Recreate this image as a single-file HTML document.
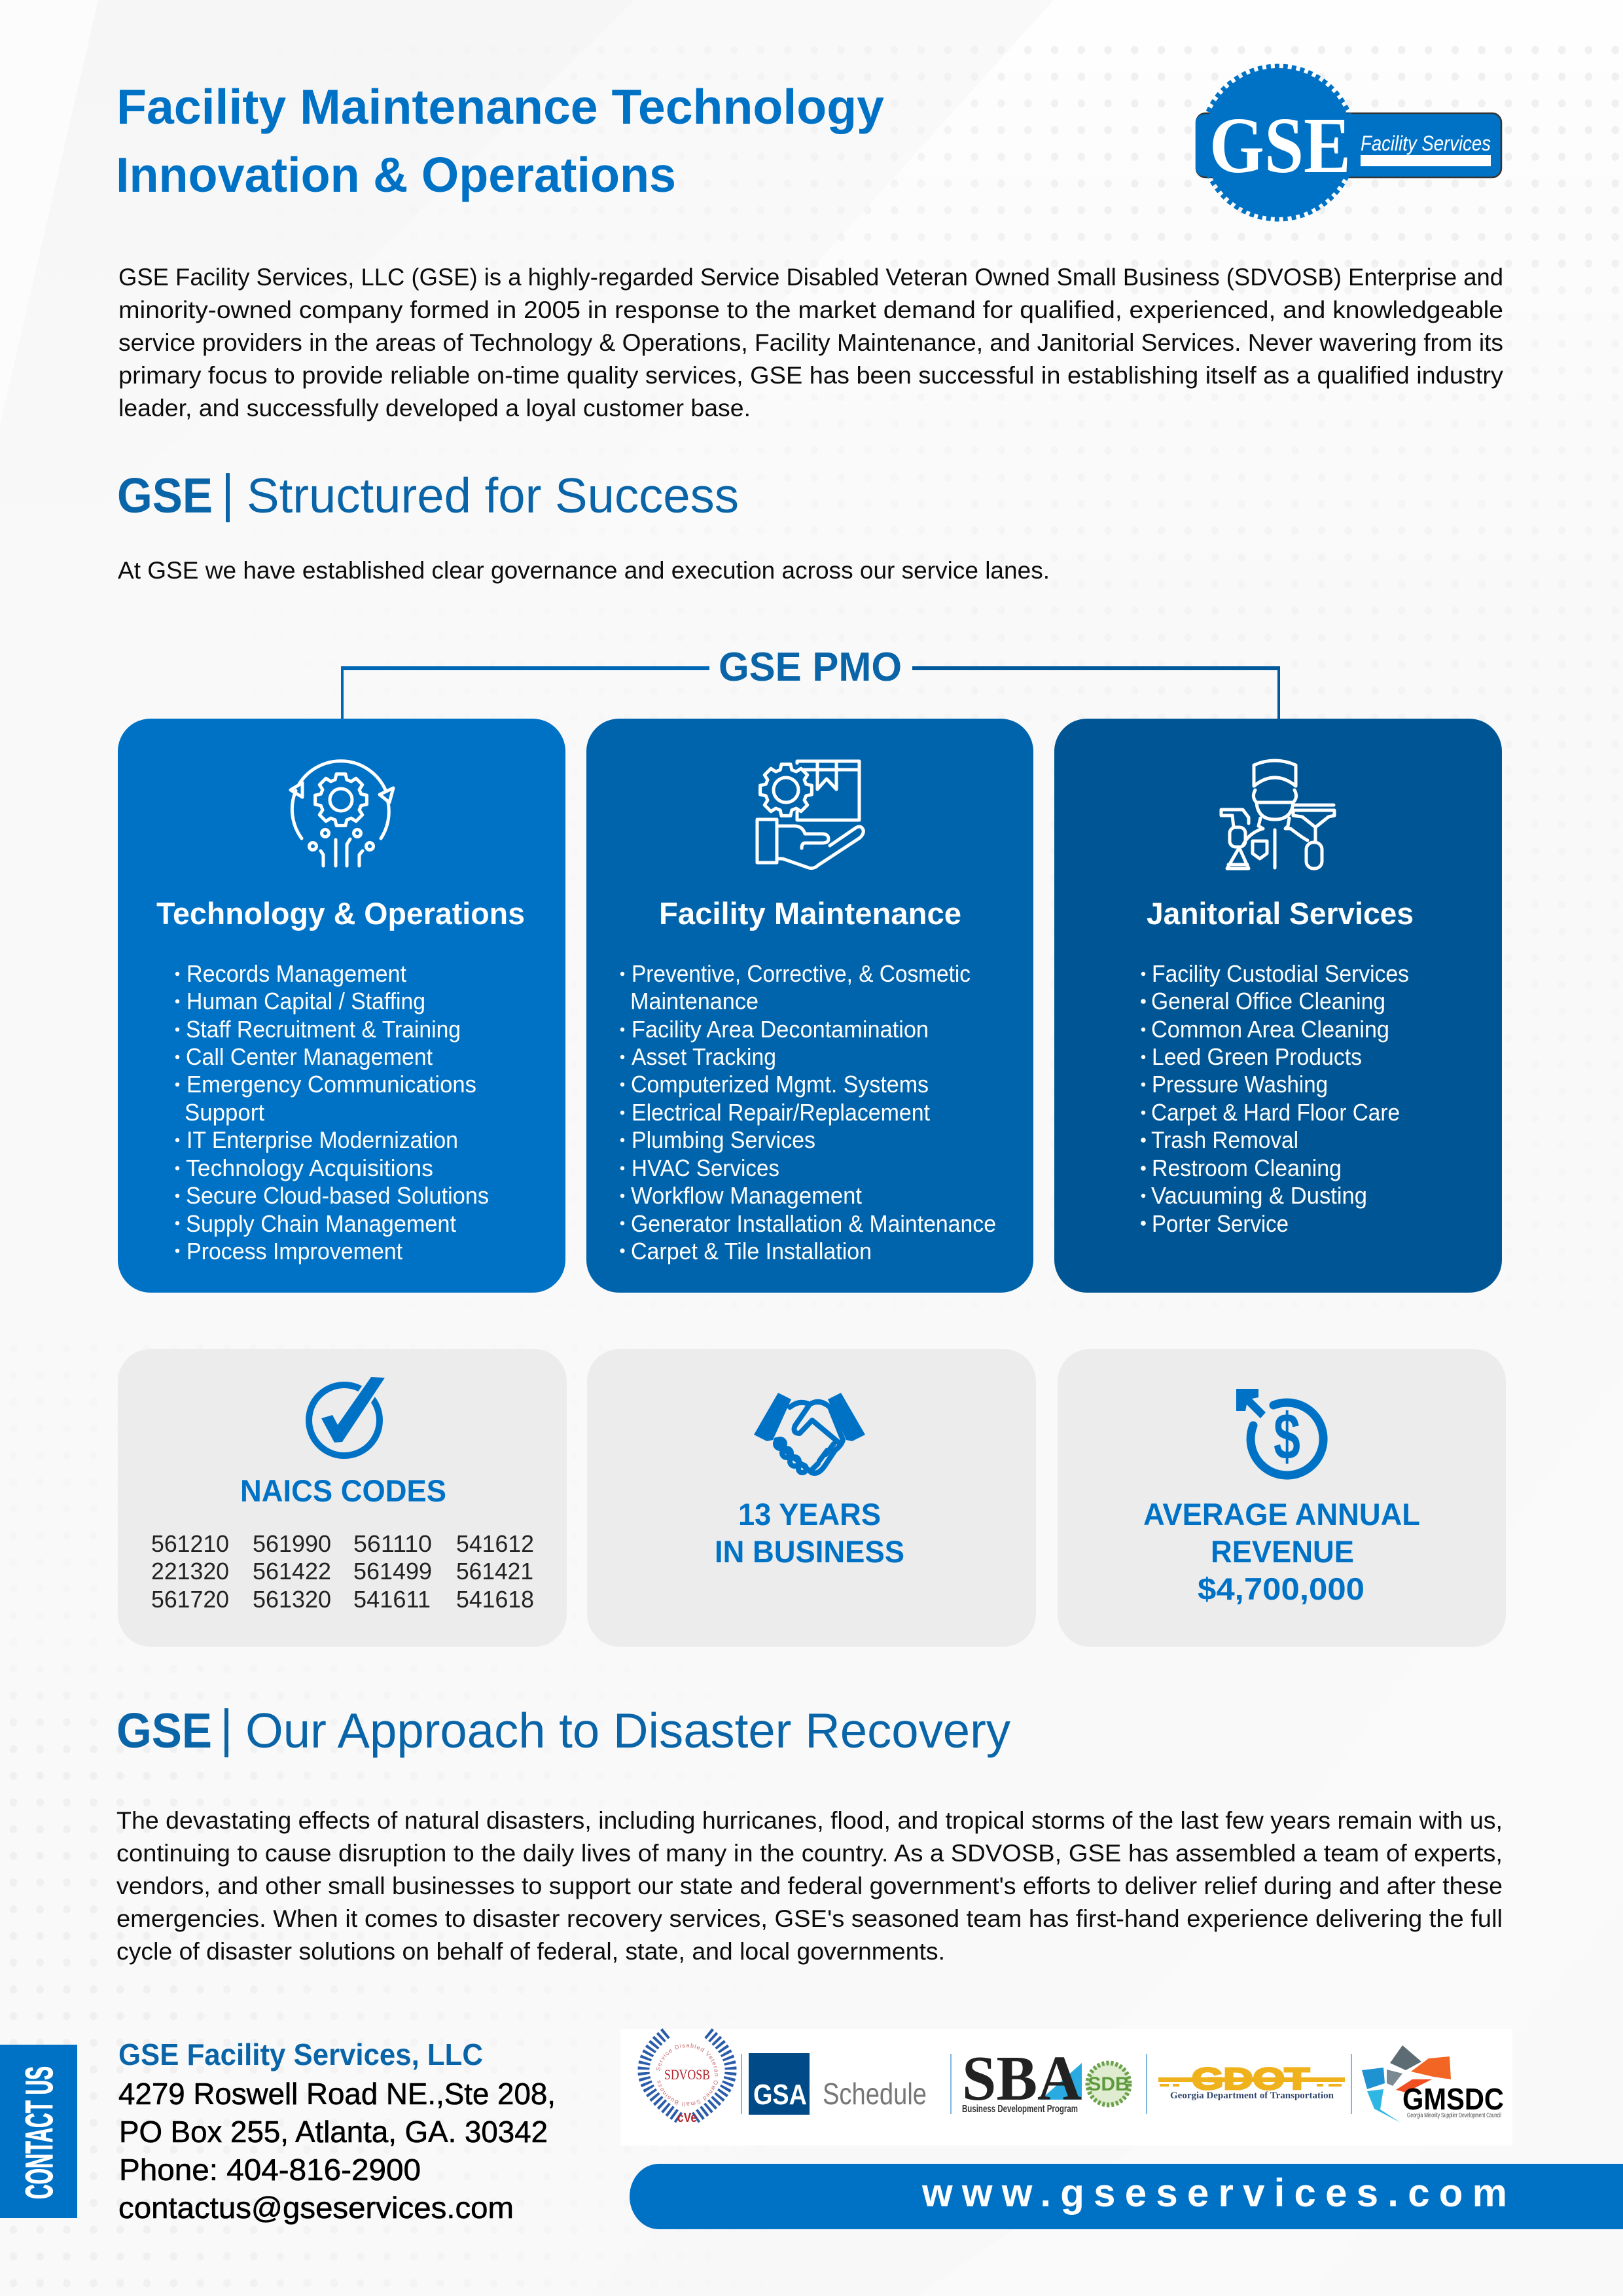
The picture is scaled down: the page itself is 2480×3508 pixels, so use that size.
<!DOCTYPE html>
<html lang="en"><head><meta charset="utf-8"><title>GSE Facility Maintenance Technology</title>
<style>
html,body{margin:0;padding:0;width:2480px;height:3508px;overflow:hidden;background:#f9f9f9}
#pg{position:relative;width:2480px;height:3508px;overflow:hidden;background:#f9f9f9}
.d{position:absolute;background-image:radial-gradient(ellipse 6px 6.5px at 50% 50%,#f0f0f0 90%,rgba(240,240,240,0) 100%);background-size:40.8px 40.8px}
.m{position:absolute}
svg{position:absolute;left:0;top:0}
text{font-family:"Liberation Sans",Arial,sans-serif}
.p{font-size:37px;fill:#0c0c0c}
.h{font-size:75px;fill:#0a65a8}
.hb{font-weight:bold}
.t{font-size:75px;font-weight:bold;fill:#0072c6}
.ct{font-size:47px;font-weight:bold;fill:#fff}
.l{font-size:36px;fill:#fff}
.n{font-size:36px;fill:#222}
.s{font-size:47px;font-weight:bold;fill:#0072c6}
.a{font-size:46px;fill:#000;stroke:#000;stroke-width:.6px}
.ic{fill:none;stroke:#fff;stroke-width:5;stroke-linecap:round;stroke-linejoin:round}
.hs{fill:none;stroke:#0072c6;stroke-width:8;stroke-linecap:round;stroke-linejoin:round}
</style></head><body><div id="pg">
<svg width="2480" height="3508" viewBox="0 0 2480 3508" style="z-index:0">
<defs>
<linearGradient id="w" x1="0" y1="0" x2="0" y2="1"><stop offset="0" stop-color="#fefefe"/><stop offset="1" stop-color="#f9f9f9"/></linearGradient>
<linearGradient id="k" x1="0" y1="0" x2="0" y2="1"><stop offset="0" stop-color="#f6f6f6"/><stop offset="1" stop-color="#f9f9f9"/></linearGradient>
</defs>
<polygon points="1610,0 2480,0 2480,900 800,900" fill="url(#w)"/>
<polygon points="0,0 150,0 0,650" fill="#fcfcfc"/>
<polygon points="150,0 970,0 370,590 0,900 0,650" fill="url(#k)"/>
<polygon points="2480,2100 2480,2900 2000,3508 1300,3508 1900,2900" fill="#fafafa"/>
<polygon points="900,3508 1150,3270 1750,3270 1400,3508" fill="#f8f8f8"/>
</svg>
<div class="m" style="left:0;top:56px;width:2480px;height:1950px;-webkit-mask-image:linear-gradient(to right,transparent 15%,#000 70%);mask-image:linear-gradient(to right,transparent 15%,#000 70%)">
<div class="d" style="left:0;top:0;width:2480px;height:1950px;-webkit-mask-image:linear-gradient(to bottom,#000 0,#000 340px,rgba(0,0,0,.5) 420px,rgba(0,0,0,.5) 1100px,rgba(0,0,0,.2) 1950px);mask-image:linear-gradient(to bottom,#000 0,#000 340px,rgba(0,0,0,.5) 420px,rgba(0,0,0,.5) 1100px,rgba(0,0,0,.2) 1950px)"></div></div>
<div class="m" style="left:0;top:2040px;width:1200px;height:1468px;-webkit-mask-image:linear-gradient(to bottom,rgba(0,0,0,.3) 0,rgba(0,0,0,.3) 480px,#000 620px);mask-image:linear-gradient(to bottom,rgba(0,0,0,.3) 0,rgba(0,0,0,.3) 480px,#000 620px)">
<div class="d" style="left:0;top:0;width:1200px;height:1468px;-webkit-mask-image:linear-gradient(to right,#000 20%,transparent 100%);mask-image:linear-gradient(to right,#000 20%,transparent 100%)"></div></div>

<svg width="2480" height="3508" viewBox="0 0 2480 3508" style="z-index:2">
<defs>
<polygon id="g" points="98.5,-17.4 98.5,17.4 76.9,22.1 70,38.8 81.9,57.4 57.4,81.9 38.8,70 22.1,76.9 17.4,98.5 -17.4,98.5 -22.1,76.9 -38.8,70 -57.4,81.9 -81.9,57.4 -70,38.8 -76.9,22.1 -98.5,17.4 -98.5,-17.4 -76.9,-22.1 -70,-38.8 -81.9,-57.4 -57.4,-81.9 -38.8,-70 -22.1,-76.9 -17.4,-98.5 17.4,-98.5 22.1,-76.9 38.8,-70 57.4,-81.9 81.9,-57.4 70,-38.8 76.9,-22.1"/>
<path id="sv" d="M1008,3170 a42,42 0 1 1 84,0 a42,42 0 1 1 -84,0"/>
</defs>

<!-- Title -->
<text class="t" x="178" y="189" textLength="1173" lengthAdjust="spacingAndGlyphs">Facility Maintenance Technology</text>
<text class="t" x="177" y="293" textLength="856" lengthAdjust="spacingAndGlyphs">Innovation &amp; Operations</text>

<!-- Logo -->
<rect x="1828" y="173" width="466" height="98" rx="14" fill="#0072c6" stroke="#333" stroke-width="2.5"/>
<circle cx="1953" cy="218" r="114" fill="#0072c6"/>
<circle cx="1953" cy="218" r="117" fill="none" stroke="#0072c6" stroke-width="7" stroke-dasharray="7 6"/>
<rect x="1827" y="175" width="30" height="94" rx="12" fill="#0072c6"/>
<text x="1848" y="263" textLength="216" lengthAdjust="spacingAndGlyphs" style="font-family:'Liberation Serif',serif;font-weight:bold;font-size:122px;fill:#fff">GSE</text>
<text x="2079" y="230" textLength="199" lengthAdjust="spacingAndGlyphs" style="font-style:italic;font-size:32px;fill:#fff">Facility Services</text>
<rect x="2079" y="237" width="199" height="17" fill="#fff"/>

<!-- Paragraph 1 -->
<text class="p" x="181" y="436" textLength="2116" lengthAdjust="spacingAndGlyphs">GSE Facility Services, LLC (GSE) is a highly-regarded Service Disabled Veteran Owned Small Business (SDVOSB) Enterprise and</text>
<text class="p" x="181" y="486" textLength="2116" lengthAdjust="spacingAndGlyphs">minority-owned company formed in 2005 in response to the market demand for qualified, experienced, and knowledgeable</text>
<text class="p" x="181" y="536" textLength="2116" lengthAdjust="spacingAndGlyphs">service providers in the areas of Technology &amp; Operations, Facility Maintenance, and Janitorial Services. Never wavering from its</text>
<text class="p" x="181" y="586" textLength="2116" lengthAdjust="spacingAndGlyphs">primary focus to provide reliable on-time quality services, GSE has been successful in establishing itself as a qualified industry</text>
<text class="p" x="181" y="636" textLength="966" lengthAdjust="spacingAndGlyphs">leader, and successfully developed a loyal customer base.</text>

<!-- Heading 1 -->
<text class="h hb" x="179" y="783" textLength="146" lengthAdjust="spacingAndGlyphs">GSE</text>
<rect x="345" y="723" width="6" height="75" fill="#0a65a8"/>
<text class="h" x="377" y="783" textLength="752" lengthAdjust="spacingAndGlyphs">Structured for Success</text>
<text class="p" x="180" y="884" textLength="1424" lengthAdjust="spacingAndGlyphs">At GSE we have established clear governance and execution across our service lanes.</text>

<!-- PMO -->
<text x="1098" y="1040" textLength="280" lengthAdjust="spacingAndGlyphs" style="font-size:62px;font-weight:bold;fill:#0a65a8">GSE PMO</text>
<rect x="521" y="1018" width="563" height="6" fill="#0068b5"/>
<rect x="521" y="1018" width="4" height="84" fill="#0068b5"/>
<rect x="1394" y="1018" width="562" height="6" fill="#005a9c"/>
<rect x="1952" y="1018" width="4" height="84" fill="#005a9c"/>

<!-- Cards -->
<rect x="180" y="1098" width="684" height="877" rx="50" fill="#0072c6"/>
<rect x="896" y="1098" width="683" height="877" rx="50" fill="#0064ac"/>
<rect x="1611" y="1098" width="684" height="877" rx="50" fill="#005694"/>

<!-- Icon 1 -->
<g class="ic">
<use href="#g" transform="translate(521,1222) scale(.4)" style="stroke-width:12.5"/>
<circle cx="521" cy="1222" r="17"/>
<path d="M461,1281 A75,75 0 0 1 452,1208 M457,1198 A75,75 0 0 1 589,1207 M593,1226 A75,75 0 0 1 582,1281"/>
<polygon points="444,1207 462,1196 462,1218"/>
<polygon points="580,1214 601,1204 595,1226"/>
<circle cx="497" cy="1273" r="5.5"/><circle cx="546" cy="1273" r="5.5"/><circle cx="478" cy="1293" r="5.5"/><circle cx="565" cy="1293" r="5.5"/>
<path d="M513,1283 V1323 M530,1323 V1290 L535,1282 M494,1323 V1306 L490,1300 M549,1323 V1306 L554,1300"/>
</g>

<!-- Icon 2 -->
<g class="ic">
<use href="#g" transform="translate(1201,1207) scale(.4)" style="stroke-width:12.5"/>
<circle cx="1201" cy="1207" r="19"/>
<path d="M1218,1166 V1163 H1313 V1253 H1218 V1240 M1228,1176 H1313 M1249,1163 V1206 L1263,1190 L1278,1206 V1163"/>
<rect x="1157" y="1252" width="30" height="66"/>
<path d="M1187,1262 H1214 Q1226,1262 1230,1274 H1256 Q1266,1274 1266,1282 Q1266,1288 1256,1288 H1230 Q1225,1288 1225,1296 M1187,1312 H1196 L1236,1326 Q1244,1328 1250,1322 L1314,1280 Q1322,1272 1318,1266 Q1314,1260 1306,1266 L1268,1292"/>
</g>

<!-- Icon 3 -->
<g class="ic">
<path d="M1916,1169 Q1948,1155 1980,1169 V1201 Q1948,1175 1916,1201 Z"/>
<path d="M1918,1207 Q1912,1218 1920,1226 Q1922,1252 1948,1252 Q1974,1252 1976,1226 Q1984,1218 1978,1207 M1921,1226 H1975"/>
<path d="M1926,1250 L1923,1262 L1930,1266 L1924,1268 Q1906,1276 1899,1292 M1970,1250 L1968,1262 L1964,1266 L1972,1266 Q1990,1280 1998,1284"/>
<path d="M1948,1268 V1326"/>
<path d="M1914,1285 H1936 V1304 L1925,1312 L1914,1304 Z"/>
<path d="M1866,1237 H1899 L1908,1249 V1258 M1866,1237 V1246 H1883 L1885,1264"/>
<rect x="1879" y="1264" width="24" height="30" rx="9"/>
<path d="M1893,1296 L1875,1327 H1908 L1894,1296 M1877,1321 H1906"/>
<path d="M1977,1230 H2038 M1976,1238 H2039 V1246 L2030,1248 L2010,1264 L1990,1248 L1976,1246 Z M2010,1264 V1287"/>
<rect x="1996" y="1287" width="24" height="40" rx="11"/>
</g>

<!-- Card titles -->
<text class="ct" x="239" y="1412" textLength="563" lengthAdjust="spacingAndGlyphs">Technology &amp; Operations</text>
<text class="ct" x="1007" y="1412" textLength="462" lengthAdjust="spacingAndGlyphs">Facility Maintenance</text>
<text class="ct" x="1752" y="1412" textLength="408" lengthAdjust="spacingAndGlyphs">Janitorial Services</text>

<!-- Bullets -->
<g fill="#fff">
<circle cx="271" cy="1488" r="3.2"/><circle cx="271" cy="1530" r="3.2"/><circle cx="271" cy="1573" r="3.2"/><circle cx="271" cy="1615" r="3.2"/><circle cx="271" cy="1657" r="3.2"/><circle cx="271" cy="1742" r="3.2"/><circle cx="271" cy="1785" r="3.2"/><circle cx="271" cy="1827" r="3.2"/><circle cx="271" cy="1869" r="3.2"/><circle cx="271" cy="1911" r="3.2"/>
<circle cx="951" cy="1488" r="3.2"/><circle cx="951" cy="1573" r="3.2"/><circle cx="951" cy="1615" r="3.2"/><circle cx="951" cy="1657" r="3.2"/><circle cx="951" cy="1700" r="3.2"/><circle cx="951" cy="1742" r="3.2"/><circle cx="951" cy="1785" r="3.2"/><circle cx="951" cy="1827" r="3.2"/><circle cx="951" cy="1869" r="3.2"/><circle cx="951" cy="1911" r="3.6"/>
<circle cx="1747" cy="1488" r="3.2"/><circle cx="1747" cy="1530" r="3.8"/><circle cx="1747" cy="1573" r="3.2"/><circle cx="1747" cy="1615" r="3.2"/><circle cx="1747" cy="1657" r="3.2"/><circle cx="1747" cy="1700" r="3.2"/><circle cx="1747" cy="1742" r="3.8"/><circle cx="1747" cy="1785" r="3.8"/><circle cx="1747" cy="1827" r="3.2"/><circle cx="1747" cy="1869" r="3.8"/>
</g>

<!-- List 1 -->
<text class="l" x="285" y="1500" textLength="336" lengthAdjust="spacingAndGlyphs">Records Management</text>
<text class="l" x="285" y="1542" textLength="365" lengthAdjust="spacingAndGlyphs">Human Capital / Staffing</text>
<text class="l" x="284" y="1585" textLength="420" lengthAdjust="spacingAndGlyphs">Staff Recruitment &amp; Training</text>
<text class="l" x="284" y="1627" textLength="377" lengthAdjust="spacingAndGlyphs">Call Center Management</text>
<text class="l" x="285" y="1669" textLength="443" lengthAdjust="spacingAndGlyphs">Emergency Communications</text>
<text class="l" x="282" y="1712" textLength="122" lengthAdjust="spacingAndGlyphs">Support</text>
<text class="l" x="285" y="1754" textLength="415" lengthAdjust="spacingAndGlyphs">IT Enterprise Modernization</text>
<text class="l" x="284" y="1797" textLength="378" lengthAdjust="spacingAndGlyphs">Technology Acquisitions</text>
<text class="l" x="284" y="1839" textLength="463" lengthAdjust="spacingAndGlyphs">Secure Cloud-based Solutions</text>
<text class="l" x="284" y="1882" textLength="413" lengthAdjust="spacingAndGlyphs">Supply Chain Management</text>
<text class="l" x="285" y="1924" textLength="330" lengthAdjust="spacingAndGlyphs">Process Improvement</text>

<!-- List 2 -->
<text class="l" x="965" y="1500" textLength="518" lengthAdjust="spacingAndGlyphs">Preventive, Corrective, &amp; Cosmetic</text>
<text class="l" x="963" y="1542" textLength="196" lengthAdjust="spacingAndGlyphs">Maintenance</text>
<text class="l" x="965" y="1585" textLength="454" lengthAdjust="spacingAndGlyphs">Facility Area Decontamination</text>
<text class="l" x="965" y="1627" textLength="221" lengthAdjust="spacingAndGlyphs">Asset Tracking</text>
<text class="l" x="964" y="1669" textLength="455" lengthAdjust="spacingAndGlyphs">Computerized Mgmt. Systems</text>
<text class="l" x="965" y="1712" textLength="456" lengthAdjust="spacingAndGlyphs">Electrical Repair/Replacement</text>
<text class="l" x="965" y="1754" textLength="281" lengthAdjust="spacingAndGlyphs">Plumbing Services</text>
<text class="l" x="965" y="1797" textLength="226" lengthAdjust="spacingAndGlyphs">HVAC Services</text>
<text class="l" x="964" y="1839" textLength="353" lengthAdjust="spacingAndGlyphs">Workflow Management</text>
<text class="l" x="964" y="1882" textLength="558" lengthAdjust="spacingAndGlyphs">Generator Installation &amp; Maintenance</text>
<text class="l" x="964" y="1924" textLength="368" lengthAdjust="spacingAndGlyphs">Carpet &amp; Tile Installation</text>

<!-- List 3 -->
<text class="l" x="1760" y="1500" textLength="393" lengthAdjust="spacingAndGlyphs">Facility Custodial Services</text>
<text class="l" x="1759" y="1542" textLength="358" lengthAdjust="spacingAndGlyphs">General Office Cleaning</text>
<text class="l" x="1759" y="1585" textLength="364" lengthAdjust="spacingAndGlyphs">Common Area Cleaning</text>
<text class="l" x="1760" y="1627" textLength="321" lengthAdjust="spacingAndGlyphs">Leed Green Products</text>
<text class="l" x="1760" y="1669" textLength="269" lengthAdjust="spacingAndGlyphs">Pressure Washing</text>
<text class="l" x="1759" y="1712" textLength="380" lengthAdjust="spacingAndGlyphs">Carpet &amp; Hard Floor Care</text>
<text class="l" x="1759" y="1754" textLength="225" lengthAdjust="spacingAndGlyphs">Trash Removal</text>
<text class="l" x="1760" y="1797" textLength="290" lengthAdjust="spacingAndGlyphs">Restroom Cleaning</text>
<text class="l" x="1759" y="1839" textLength="330" lengthAdjust="spacingAndGlyphs">Vacuuming &amp; Dusting</text>
<text class="l" x="1760" y="1882" textLength="209" lengthAdjust="spacingAndGlyphs">Porter Service</text>

<!-- Stat cards -->
<rect x="180" y="2061" width="686" height="455" rx="50" fill="#ececec"/>
<rect x="897" y="2061" width="686" height="455" rx="50" fill="#ececec"/>
<rect x="1616" y="2061" width="685" height="455" rx="50" fill="#ececec"/>

<!-- Check -->
<circle cx="526" cy="2170" r="54" fill="none" stroke="#0072c6" stroke-width="10"/>
<polygon points="491,2167 508,2162 516,2177 567,2104 588,2105 523,2203 511,2204" fill="#0072c6" stroke="#ececec" stroke-width="7" paint-order="stroke"/>
<text class="s" x="367" y="2294" textLength="315" lengthAdjust="spacingAndGlyphs">NAICS CODES</text>

<text class="n" x="231" y="2371" textLength="119" lengthAdjust="spacingAndGlyphs">561210</text>
<text class="n" x="386" y="2371" textLength="120" lengthAdjust="spacingAndGlyphs">561990</text>
<text class="n" x="540" y="2371" textLength="120" lengthAdjust="spacingAndGlyphs">561110</text>
<text class="n" x="697" y="2371" textLength="119" lengthAdjust="spacingAndGlyphs">541612</text>
<text class="n" x="231" y="2413" textLength="119" lengthAdjust="spacingAndGlyphs">221320</text>
<text class="n" x="386" y="2413" textLength="120" lengthAdjust="spacingAndGlyphs">561422</text>
<text class="n" x="540" y="2413" textLength="120" lengthAdjust="spacingAndGlyphs">561499</text>
<text class="n" x="697" y="2413" textLength="118" lengthAdjust="spacingAndGlyphs">561421</text>
<text class="n" x="231" y="2456" textLength="119" lengthAdjust="spacingAndGlyphs">561720</text>
<text class="n" x="386" y="2456" textLength="120" lengthAdjust="spacingAndGlyphs">561320</text>
<text class="n" x="540" y="2456" textLength="118" lengthAdjust="spacingAndGlyphs">541611</text>
<text class="n" x="697" y="2456" textLength="119" lengthAdjust="spacingAndGlyphs">541618</text>

<!-- Handshake -->
<polygon points="1189,2128 1209,2138 1181,2200 1172,2202 1152,2192" fill="#0072c6"/>
<polygon points="1285,2128 1265,2138 1293,2200 1302,2202 1322,2192" fill="#0072c6"/>
<g class="hs">
<path d="M1207,2150 Q1222,2138 1237,2146 Q1252,2136 1268,2150 L1288,2200 Q1286,2208 1276,2216 L1260,2240 Q1250,2254 1240,2250 L1200,2216 L1186,2200"/>
<path d="M1237,2146 L1215,2178 Q1210,2190 1222,2190 L1241,2170 L1284,2206"/>
<circle cx="1192" cy="2206" r="7"/><circle cx="1202" cy="2220" r="7"/><circle cx="1214" cy="2233" r="7"/><circle cx="1226" cy="2244" r="6"/>
<path d="M1264,2216 L1252,2232 M1274,2206 L1262,2222 M1250,2236 L1240,2246"/>
</g>
<text class="s" x="1128" y="2330" textLength="218" lengthAdjust="spacingAndGlyphs">13 YEARS</text>
<text class="s" x="1092" y="2387" textLength="290" lengthAdjust="spacingAndGlyphs">IN BUSINESS</text>

<!-- Dollar -->
<path d="M1945,2147 A55.5,55.5 0 1 1 1914,2178" fill="none" stroke="#0072c6" stroke-width="13" stroke-linecap="round" transform="translate(1,0)"/>
<polygon points="1889,2122 1923,2122 1923,2135 1913,2137 1934,2158 1926,2167 1905,2146 1903,2156 1889,2156" fill="#0072c6"/>
<text x="1946" y="2229" textLength="41" lengthAdjust="spacingAndGlyphs" style="font-size:100px;font-weight:bold;fill:#0072c6">$</text>
<text class="s" x="1747" y="2330" textLength="423" lengthAdjust="spacingAndGlyphs">AVERAGE ANNUAL</text>
<text class="s" x="1850" y="2387" textLength="219" lengthAdjust="spacingAndGlyphs">REVENUE</text>
<text class="s" x="1830" y="2444" textLength="255" lengthAdjust="spacingAndGlyphs">$4,700,000</text>

<!-- Heading 2 -->
<text class="h hb" x="178" y="2670" textLength="146" lengthAdjust="spacingAndGlyphs">GSE</text>
<rect x="343" y="2610" width="6" height="75" fill="#0a65a8"/>
<text class="h" x="375" y="2670" textLength="1169" lengthAdjust="spacingAndGlyphs">Our Approach to Disaster Recovery</text>

<text class="p" x="178" y="2794" textLength="2118" lengthAdjust="spacingAndGlyphs">The devastating effects of natural disasters, including hurricanes, flood, and tropical storms of the last few years remain with us,</text>
<text class="p" x="178" y="2844" textLength="2118" lengthAdjust="spacingAndGlyphs">continuing to cause disruption to the daily lives of many in the country. As a SDVOSB, GSE has assembled a team of experts,</text>
<text class="p" x="178" y="2894" textLength="2118" lengthAdjust="spacingAndGlyphs">vendors, and other small businesses to support our state and federal government's efforts to deliver relief during and after these</text>
<text class="p" x="178" y="2944" textLength="2118" lengthAdjust="spacingAndGlyphs">emergencies. When it comes to disaster recovery services, GSE's seasoned team has first-hand experience delivering the full</text>
<text class="p" x="178" y="2994" textLength="1266" lengthAdjust="spacingAndGlyphs">cycle of disaster solutions on behalf of federal, state, and local governments.</text>

<!-- Contact -->
<rect x="0" y="3124" width="118" height="265" fill="#0072c6"/>
<text transform="translate(80,3360) rotate(-90)" textLength="203" lengthAdjust="spacingAndGlyphs" style="font-size:58px;font-weight:bold;fill:#fff;stroke:#fff;stroke-width:1.2px">CONTACT US</text>
<text x="181" y="3155" textLength="557" lengthAdjust="spacingAndGlyphs" style="font-size:46px;font-weight:bold;fill:#0a65a8">GSE Facility Services, LLC</text>
<text class="a" x="181" y="3215" textLength="668" lengthAdjust="spacingAndGlyphs">4279 Roswell Road NE.,Ste 208,</text>
<text class="a" x="182" y="3273" textLength="655" lengthAdjust="spacingAndGlyphs">PO Box 255, Atlanta, GA. 30342</text>
<text class="a" x="182" y="3331" textLength="461" lengthAdjust="spacingAndGlyphs">Phone: 404-816-2900</text>
<text class="a" x="181" y="3389" textLength="604" lengthAdjust="spacingAndGlyphs">contactus@gseservices.com</text>

<!-- Logos strip -->
<rect x="948" y="3100" width="1363" height="178" fill="#fff"/>
<path d="M1018,3106 Q940,3170 1038,3236" fill="none" stroke="#2a5caa" stroke-width="18" stroke-dasharray="4 4"/>
<path d="M1082,3106 Q1160,3170 1062,3236" fill="none" stroke="#2a5caa" stroke-width="18" stroke-dasharray="4 4"/>
<text style="font-size:9px;fill:#c9686c"><textPath href="#sv" startOffset="2%" textLength="250">Service Disabled Veteran Owned Small Business</textPath></text>
<text x="1015" y="3177" textLength="70" lengthAdjust="spacingAndGlyphs" style="font-family:'Liberation Serif',serif;font-size:22px;fill:#b5252b">SDVOSB</text>
<text x="1035" y="3242" textLength="30" lengthAdjust="spacingAndGlyphs" style="font-size:20px;font-weight:bold;fill:#b5252b">cVe</text>
<g fill="#7db7e0">
<rect x="1132" y="3138" width="2" height="92"/><rect x="1452" y="3138" width="2" height="92"/><rect x="1751" y="3138" width="2" height="92"/><rect x="2064" y="3138" width="2" height="92"/>
</g>
<rect x="1144" y="3137" width="93" height="94" fill="#004b87"/>
<text x="1151" y="3215" textLength="82" lengthAdjust="spacingAndGlyphs" style="font-size:44px;font-weight:bold;fill:#fff">GSA</text>
<text x="1257" y="3215" textLength="159" lengthAdjust="spacingAndGlyphs" style="font-size:46px;fill:#777">Schedule</text>
<polygon points="1590,3208 1653,3208 1653,3152" fill="#29abe2"/>
<text x="1470" y="3208" textLength="183" lengthAdjust="spacingAndGlyphs" style="font-family:'Liberation Serif',serif;font-size:97px;font-weight:bold;fill:#222">SBA</text>
<text x="1470" y="3227" textLength="177" lengthAdjust="spacingAndGlyphs" style="font-size:16px;font-weight:bold;fill:#333">Business Development Program</text>
<circle cx="1694" cy="3184" r="33" fill="#dfeccf"/>
<circle cx="1694" cy="3184" r="32" fill="none" stroke="#6ba14a" stroke-width="7" stroke-dasharray="4 3"/>
<text x="1694" y="3194" text-anchor="middle" style="font-size:30px;font-weight:bold;fill:#5e9a3d">SDB</text>
<g fill="#f0b21c">
<rect x="1770" y="3174" width="285" height="7"/>
<rect x="1772" y="3184" width="14" height="4"/><rect x="1792" y="3184" width="10" height="4"/><rect x="2012" y="3184" width="10" height="4"/><rect x="2030" y="3184" width="20" height="4"/>
</g>
<text x="1821" y="3192" textLength="180" lengthAdjust="spacingAndGlyphs" style="font-size:46px;font-weight:bold;fill:#f0b21c;stroke:#f0b21c;stroke-width:3px">GDOT</text>
<text x="1788" y="3206" textLength="250" lengthAdjust="spacingAndGlyphs" style="font-family:'Liberation Serif',serif;font-size:15px;font-weight:bold;fill:#35486e">Georgia Department of Transportation</text>
<polygon points="2143,3125 2172,3150 2148,3163 2124,3152" fill="#5d6b73"/>
<polygon points="2156,3165 2183,3145 2215,3142 2217,3177 2190,3173" fill="#f26522"/>
<polygon points="2158,3177 2188,3177 2148,3197 2133,3193" fill="#f04e23"/>
<polygon points="2081,3163 2114,3159 2116,3183 2089,3192" fill="#1f93d2"/>
<polygon points="2119,3162 2143,3168 2128,3187 2119,3183" fill="#7b8a92"/>
<polygon points="2089,3195 2114,3192 2109,3223 2140,3243 2100,3222" fill="#2fb7e4"/>
<text x="2143" y="3223" textLength="155" lengthAdjust="spacingAndGlyphs" style="font-size:46px;font-weight:bold;fill:#000">GMSDC</text>
<text x="2150" y="3235" textLength="144" lengthAdjust="spacingAndGlyphs" style="font-size:10px;fill:#444">Georgia Minority Supplier Development Council</text>

<!-- Website bar -->
<path d="M2480,3306 H1007 A45,50 0 0 0 962,3356 A45,50 0 0 0 1007,3406 H2480 Z" fill="#0072c6"/>
<text x="1409" y="3371" textLength="894" lengthAdjust="spacing" style="font-size:60px;font-weight:bold;fill:#fff">www.gseservices.com</text>
</svg>
</div></body></html>
